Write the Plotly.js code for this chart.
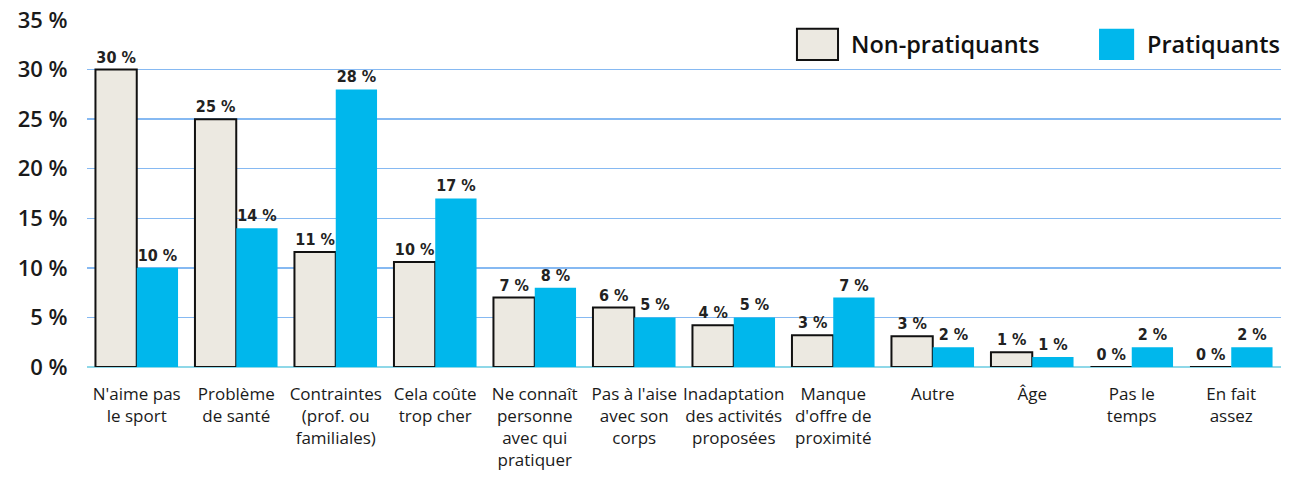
<!DOCTYPE html>
<html>
<head>
<meta charset="utf-8">
<script src="https://cdn.plot.ly/plotly-3.0.1.min.js"></script>
<style>html,body{margin:0;padding:0;background:#fff;}#chart{width:1300px;height:497px;}</style>
</head>
<body>
<div id="chart"></div>
<script>
const categories = [
  "N'aime pas<br>le sport",
  "Problème<br>de santé",
  "Contraintes<br>(prof. ou<br>familiales)",
  "Cela coûte<br>trop cher",
  "Ne connaît<br>personne<br>avec qui<br>pratiquer",
  "Pas à l'aise<br>avec son<br>corps",
  "Inadaptation<br>des activités<br>proposées",
  "Manque<br>d'offre de<br>proximité",
  "Autre",
  "Âge",
  "Pas le<br>temps",
  "En fait<br>assez"
];
const nonPratiquants = [30, 25, 11.6, 10.6, 7, 6, 4.2, 3.2, 3.1, 1.5, 0, 0];
const nonPratiquantsLabels = ["30 %","25 %","11 %","10 %","7 %","6 %","4 %","3 %","3 %","1 %","0 %","0 %"];
const pratiquants = [10, 14, 28, 17, 8, 5, 5, 7, 2, 1, 2, 2];
const pratiquantsLabels = ["10 %","14 %","28 %","17 %","8 %","5 %","5 %","7 %","2 %","1 %","2 %","2 %"];
const yTicks = [0, 5, 10, 15, 20, 25, 30, 35];

const narrow = "'Liberation Sans Narrow', 'DejaVu Sans Condensed', 'Open Sans', sans-serif";
const sans = "'Open Sans', 'Noto Sans', sans-serif";
const beige = '#ece9e1';
const cyan = '#00b7ec';

const traces = [
  {
    type: 'bar', name: 'Non-pratiquants', x: categories, y: nonPratiquants,
    text: nonPratiquantsLabels, textposition: 'outside', cliponaxis: false,
    textfont: {family: narrow, size: 16, color: '#222', weight: 600},
    marker: {color: beige, line: {color: '#111', width: 2}},
    hoverinfo: 'x+y'
  },
  {
    type: 'bar', name: 'Pratiquants', x: categories, y: pratiquants,
    text: pratiquantsLabels, textposition: 'outside', cliponaxis: false,
    textfont: {family: narrow, size: 16, color: '#222', weight: 600},
    marker: {color: cyan, line: {width: 0}},
    hoverinfo: 'x+y'
  }
];

const layout = {
  width: 1300, height: 497,
  margin: {l: 87, r: 19, t: 20, b: 130},
  paper_bgcolor: '#fff', plot_bgcolor: '#fff',
  barmode: 'group', bargap: 0.17, bargroupgap: 0,
  showlegend: false,
  xaxis: {
    type: 'category', showgrid: false, zeroline: false, showline: false,
    ticks: '', ticklabelstandoff: 15,
    tickfont: {family: sans, size: 17, color: '#1a1a1a', weight: 500},
    automargin: false
  },
  yaxis: {
    range: [0, 35], tickvals: yTicks, ticktext: yTicks.map(v => v + ' %'),
    showgrid: true, gridcolor: '#86b9f2', gridwidth: 1.5,
    zeroline: true, zerolinecolor: '#8fd8e8', zerolinewidth: 1.5,
    showline: false, ticks: 'outside', ticklen: 14, tickcolor: 'rgba(0,0,0,0)',
    tickfont: {family: sans, size: 22, color: '#1a1a1a', weight: 600},
    automargin: false
  },
  shapes: [
    {type: 'rect', xref: 'paper', yref: 'paper', x0: 0.5946, x1: 0.629, y0: 0.885, y1: 0.975,
     fillcolor: beige, line: {color: '#111', width: 2}},
    {type: 'rect', xref: 'paper', yref: 'paper', x0: 0.8476, x1: 0.877, y0: 0.885, y1: 0.975,
     fillcolor: cyan, line: {width: 0}}
  ],
  annotations: [
    {xref: 'paper', yref: 'paper', x: 0.638, y: 0.93, xanchor: 'left', yanchor: 'middle', showarrow: false,
     text: 'Non-pratiquants', font: {family: sans, size: 23.5, color: '#111', weight: 600}},
    {xref: 'paper', yref: 'paper', x: 0.886, y: 0.93, xanchor: 'left', yanchor: 'middle', showarrow: false,
     text: 'Pratiquants', font: {family: sans, size: 23.5, color: '#111', weight: 600}}
  ]
};

Plotly.newPlot('chart', traces, layout, {displayModeBar: false, staticPlot: true});
</script>
</body>
</html>
